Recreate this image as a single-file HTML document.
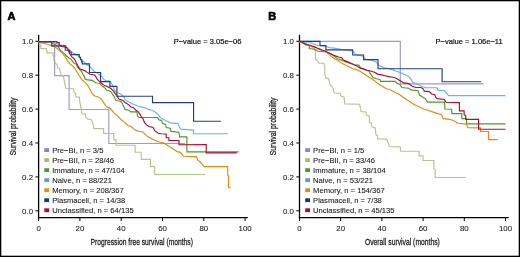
<!DOCTYPE html>
<html><head><meta charset="utf-8"><style>
html,body{margin:0;padding:0;background:#fff;}
svg{display:block;will-change:transform;}
.t{font-family:"Liberation Sans", sans-serif;font-size:7.5px;fill:#111;stroke:#111;stroke-width:0.22px;}
.lg{font-family:"Liberation Sans", sans-serif;font-size:7.9px;fill:#222;stroke:#222;stroke-width:0.1px;}
.pv{font-family:"Liberation Sans", sans-serif;font-size:7.9px;fill:#111;stroke:#111;stroke-width:0.2px;}
.tk{font-family:"Liberation Sans", sans-serif;font-size:7.85px;fill:#1a1a1a;stroke:#1a1a1a;stroke-width:0.08px;}
.c{font-family:"Liberation Sans", sans-serif;font-size:9.5px;fill:#151515;stroke:#151515;stroke-width:0.25px;}
.lab{font-family:"Liberation Sans", sans-serif;font-size:11px;font-weight:bold;fill:#000;stroke:#000;stroke-width:0.7px;stroke-linejoin:round;}
</style></head><body>
<svg width="520" height="257" viewBox="0 0 520 257">
<rect x="0.65" y="0.65" width="518.7" height="255.7" fill="none" stroke="#000" stroke-width="1.3"/>
<text x="7.4" y="20" class="lab">A</text>
<text x="268.3" y="20" class="lab">B</text>
<line x1="38.60" y1="34.8" x2="38.60" y2="218.3" stroke="#000" stroke-width="1.3"/>
<line x1="38.00" y1="217.7" x2="247.80" y2="217.7" stroke="#000" stroke-width="1.3"/>
<line x1="35.40" y1="210.80" x2="38.60" y2="210.80" stroke="#000" stroke-width="1"/>
<text x="33.00" y="213.50" text-anchor="end" class="tk">0.0</text>
<line x1="35.40" y1="176.90" x2="38.60" y2="176.90" stroke="#000" stroke-width="1"/>
<text x="33.00" y="179.60" text-anchor="end" class="tk">0.2</text>
<line x1="35.40" y1="143.00" x2="38.60" y2="143.00" stroke="#000" stroke-width="1"/>
<text x="33.00" y="145.70" text-anchor="end" class="tk">0.4</text>
<line x1="35.40" y1="109.10" x2="38.60" y2="109.10" stroke="#000" stroke-width="1"/>
<text x="33.00" y="111.80" text-anchor="end" class="tk">0.6</text>
<line x1="35.40" y1="75.20" x2="38.60" y2="75.20" stroke="#000" stroke-width="1"/>
<text x="33.00" y="77.90" text-anchor="end" class="tk">0.8</text>
<line x1="35.40" y1="41.30" x2="38.60" y2="41.30" stroke="#000" stroke-width="1"/>
<text x="33.00" y="44.00" text-anchor="end" class="tk">1.0</text>
<line x1="38.60" y1="217.7" x2="38.60" y2="221" stroke="#000" stroke-width="1"/>
<text x="38.60" y="231.4" text-anchor="middle" class="tk">0</text>
<line x1="79.90" y1="217.7" x2="79.90" y2="221" stroke="#000" stroke-width="1"/>
<text x="79.90" y="231.4" text-anchor="middle" class="tk">20</text>
<line x1="121.20" y1="217.7" x2="121.20" y2="221" stroke="#000" stroke-width="1"/>
<text x="121.20" y="231.4" text-anchor="middle" class="tk">40</text>
<line x1="162.50" y1="217.7" x2="162.50" y2="221" stroke="#000" stroke-width="1"/>
<text x="162.50" y="231.4" text-anchor="middle" class="tk">60</text>
<line x1="203.80" y1="217.7" x2="203.80" y2="221" stroke="#000" stroke-width="1"/>
<text x="203.80" y="231.4" text-anchor="middle" class="tk">80</text>
<line x1="245.10" y1="217.7" x2="245.10" y2="221" stroke="#000" stroke-width="1"/>
<text x="245.10" y="231.4" text-anchor="middle" class="tk">100</text>
<g transform="translate(0,0.3)">
<path d="M38.6,41.3 54.6,41.3 54.6,75.3 69.1,75.3 69.1,109.2 108.8,109.2 108.8,143.2 184.9,143.2" fill="none" stroke="#9d98d8" stroke-width="1.15" stroke-linejoin="miter"/>
<path d="M38.6,41.3 39.2,41.3 39.2,43.7 40.1,43.7 40.1,45.1 40.8,45.1 40.8,48.3 46.4,48.3 46.4,50.7 47.1,50.7 47.1,52.5 53.0,52.5 53.0,55.5 53.8,55.5 53.8,60.0 54.7,60.0 55.4,63.5 57.0,63.9 57.5,67.4 59.3,67.8 60.1,70.9 60.9,73.2 61.0,75.6 63.2,75.6 64.0,78.7 64.8,83.3 65.6,87.2 65.6,88.0 73.3,88.4 74.1,91.9 75.7,93.5 75.9,96.6 79.3,96.8 79.8,101.7 80.6,105.6 81.3,109.5 82.1,113.5 85.2,113.8 86.0,117.2 88.3,118.8 91.5,119.6 93.0,123.5 93.8,127.4 93.8,128.3 103.6,128.3 103.6,133.2 113.7,133.2 113.7,139.5 116.0,139.5 116.0,144.9 135.1,144.9 135.1,151.9 141.3,151.9 141.3,159.0 150.5,159.0 150.5,166.3 154.6,166.3 154.6,174.2 205.0,174.2" fill="none" stroke="#b4c690" stroke-width="1.15" stroke-linejoin="miter"/>
<path d="M38.6,41.3 50.0,41.3 52.0,42.7 56.2,45.1 59.0,47.6 60.3,49.9 63.8,52.8 66.2,55.2 68.5,57.5 70.8,58.7 72.6,61.0 74.3,63.3 76.0,63.7 77.4,66.5 79.7,69.3 81.6,71.2 83.0,74.0 84.4,76.4 85.3,79.2 88.1,79.6 91.9,80.1 93.8,81.0 95.6,82.4 97.0,82.7 99.7,83.0 101.6,85.3 103.5,86.7 105.3,88.1 106.7,90.0 109.1,90.5 111.0,91.4 112.4,93.8 113.9,95.8 114.8,98.0 115.7,99.9 117.6,100.4 120.4,100.8 121.8,102.2 122.7,104.1 123.7,106.0 124.6,108.0 125.1,109.1 129.0,109.9 130.6,111.5 136.8,111.5 137.6,115.4 138.3,116.9 142.2,117.2 157.8,117.2 158.6,119.5 161.7,120.2 162.5,123.3 165.6,124.1 166.3,127.2 170.2,128.0 171.0,131.1 178.8,131.9 179.6,135.8 179.6,136.6 186.9,136.6 186.9,151.6 238.8,151.6" fill="none" stroke="#4a9c28" stroke-width="1.15" stroke-linejoin="miter"/>
<path d="M38.6,41.3 44.0,41.3 44.0,42.1 51.3,42.1 57.6,43.7 60.4,44.8 65.0,45.3 67.3,47.6 69.7,49.9 73.2,52.8 76.7,54.6 79.5,57.0 82.5,60.4 84.8,62.2 88.0,65.1 89.7,65.8 92.0,68.9 94.3,71.2 97.5,72.8 101.1,76.0 102.5,77.0 103.5,78.8 105.3,80.2 109.9,80.8 111.5,83.0 114.0,88.5 114.8,90.5 117.6,92.4 119.5,93.3 121.3,94.3 123.7,96.1 125.1,99.0 127.0,100.8 129.8,102.2 132.6,103.6 136.0,105.0 138.3,106.0 142.2,106.8 145.4,107.6 148.5,109.1 151.6,109.9 153.9,110.9 156.2,112.5 158.6,114.8 160.1,117.1 162.5,118.7 165.6,120.2 171.0,122.6 178.0,123.3 179.6,127.2 181.1,128.8 193.6,129.8 193.6,133.4 227.9,133.4" fill="none" stroke="#72b2e6" stroke-width="1.15" stroke-linejoin="miter"/>
<path d="M38.6,41.3 41.5,42.7 46.4,43.7 50.6,45.1 54.1,46.5 56.9,47.9 59.0,49.7 60.3,51.1 62.7,53.4 65.0,56.3 67.3,59.8 69.7,63.3 72.6,65.7 74.9,68.0 77.5,72.7 82.2,79.7 85.0,82.1 87.3,84.5 89.7,88.4 92.0,93.0 94.3,95.4 97.5,96.5 100.3,97.9 102.1,99.7 103.8,102.6 106.2,106.1 107.9,107.3 109.7,107.8 112.0,110.2 114.3,113.1 117.3,115.4 119.6,117.8 121.3,119.5 124.3,121.8 126.6,123.9 128.5,125.4 131.2,126.2 133.6,128.6 135.9,130.1 139.0,130.9 142.9,131.7 145.2,134.0 147.6,136.3 150.7,137.9 153.8,139.5 156.9,141.0 160.0,142.0 163.1,142.3 165.4,143.6 167.8,145.1 170.1,146.7 172.5,148.2 174.8,149.8 177.1,151.3 179.5,151.8 181.8,153.7 183.3,156.0 195.0,156.3 196.6,156.5 197.3,158.6 198.1,160.1 200.4,161.7 202.0,164.0 203.6,165.6 204.3,166.3 227.7,166.3 227.7,174.9 228.5,175.7 228.5,187.4 230.8,187.4" fill="none" stroke="#e38a12" stroke-width="1.15" stroke-linejoin="miter"/>
<path d="M38.6,41.3 51.7,41.3 51.7,45.5 65.3,45.5 65.3,49.9 69.5,49.9 69.5,51.7 71.2,51.7 71.2,54.3 79.3,54.3 79.3,56.9 80.5,56.9 80.5,59.3 81.6,59.3 81.6,61.6 82.3,61.6 82.3,63.6 89.5,63.6 89.5,72.2 100.6,72.2 100.6,81.3 109.9,81.3 109.9,86.0 116.9,86.0 116.9,95.9 152.5,95.9 152.5,102.3 193.6,102.3 193.6,120.9 220.9,120.9" fill="none" stroke="#233f7e" stroke-width="1.15" stroke-linejoin="miter"/>
<path d="M38.6,41.3 56.8,41.3 56.8,42.3 59.2,42.3 59.2,45.5 62.0,46.2 65.7,46.8 67.1,47.7 68.5,50.5 69.5,53.3 70.9,55.2 72.3,57.1 73.7,58.0 75.1,59.9 76.0,61.9 77.9,65.6 79.7,68.4 81.6,69.3 83.5,69.8 85.3,70.7 87.2,72.1 90.0,74.0 93.8,74.5 95.2,75.4 96.6,77.8 97.9,79.7 99.3,81.1 101.6,83.0 104.4,85.3 106.3,85.8 108.1,86.7 111.0,88.1 112.8,90.0 114.2,91.9 115.6,93.8 117.0,95.6 118.4,98.0 119.0,99.0 121.3,99.4 123.2,100.4 125.1,102.2 127.4,103.6 129.3,105.0 130.7,106.4 133.5,107.4 136.0,109.9 138.3,111.5 139.9,113.8 141.5,116.9 143.0,118.5 144.6,122.4 146.9,125.0 149.1,126.2 153.1,127.2 154.7,130.4 157.8,132.7 160.9,133.5 166.2,133.7 166.2,137.4 168.9,137.4 168.9,140.2 179.0,140.2 179.0,144.4 206.2,144.3 206.2,152.6 236.8,152.6" fill="none" stroke="#b40a32" stroke-width="1.15" stroke-linejoin="miter"/>
</g>
<rect x="44.30" y="148.20" width="4.8" height="3.8" fill="#8a84cc"/>
<text transform="translate(52.20,152.80) scale(0.965,1)" class="lg">Pre−BI, n = 3/5</text>
<rect x="44.30" y="158.22" width="4.8" height="3.8" fill="#a4bb78"/>
<text transform="translate(52.20,162.80) scale(0.965,1)" class="lg">Pre−BII, n = 28/46</text>
<rect x="44.30" y="168.24" width="4.8" height="3.8" fill="#4a9c28"/>
<text transform="translate(52.20,172.80) scale(0.965,1)" class="lg">Immature, n = 47/104</text>
<rect x="44.30" y="178.26" width="4.8" height="3.8" fill="#539fe0"/>
<text transform="translate(52.20,182.80) scale(0.965,1)" class="lg">Naive, n = 88/221</text>
<rect x="44.30" y="188.28" width="4.8" height="3.8" fill="#e38a12"/>
<text transform="translate(52.20,192.80) scale(0.965,1)" class="lg">Memory, n = 208/367</text>
<rect x="44.30" y="198.30" width="4.8" height="3.8" fill="#1a3676"/>
<text transform="translate(52.20,202.80) scale(0.965,1)" class="lg">Plasmacell, n = 14/38</text>
<rect x="44.30" y="208.32" width="4.8" height="3.8" fill="#b40a32"/>
<text transform="translate(52.20,212.80) scale(0.965,1)" class="lg">Unclassified, n = 64/135</text>
<line x1="299.50" y1="34.8" x2="299.50" y2="218.3" stroke="#000" stroke-width="1.3"/>
<line x1="298.90" y1="217.7" x2="508.70" y2="217.7" stroke="#000" stroke-width="1.3"/>
<line x1="296.30" y1="210.80" x2="299.50" y2="210.80" stroke="#000" stroke-width="1"/>
<text x="293.90" y="213.50" text-anchor="end" class="tk">0.0</text>
<line x1="296.30" y1="176.90" x2="299.50" y2="176.90" stroke="#000" stroke-width="1"/>
<text x="293.90" y="179.60" text-anchor="end" class="tk">0.2</text>
<line x1="296.30" y1="143.00" x2="299.50" y2="143.00" stroke="#000" stroke-width="1"/>
<text x="293.90" y="145.70" text-anchor="end" class="tk">0.4</text>
<line x1="296.30" y1="109.10" x2="299.50" y2="109.10" stroke="#000" stroke-width="1"/>
<text x="293.90" y="111.80" text-anchor="end" class="tk">0.6</text>
<line x1="296.30" y1="75.20" x2="299.50" y2="75.20" stroke="#000" stroke-width="1"/>
<text x="293.90" y="77.90" text-anchor="end" class="tk">0.8</text>
<line x1="296.30" y1="41.30" x2="299.50" y2="41.30" stroke="#000" stroke-width="1"/>
<text x="293.90" y="44.00" text-anchor="end" class="tk">1.0</text>
<line x1="299.50" y1="217.7" x2="299.50" y2="221" stroke="#000" stroke-width="1"/>
<text x="299.50" y="231.4" text-anchor="middle" class="tk">0</text>
<line x1="340.70" y1="217.7" x2="340.70" y2="221" stroke="#000" stroke-width="1"/>
<text x="340.70" y="231.4" text-anchor="middle" class="tk">20</text>
<line x1="381.90" y1="217.7" x2="381.90" y2="221" stroke="#000" stroke-width="1"/>
<text x="381.90" y="231.4" text-anchor="middle" class="tk">40</text>
<line x1="423.10" y1="217.7" x2="423.10" y2="221" stroke="#000" stroke-width="1"/>
<text x="423.10" y="231.4" text-anchor="middle" class="tk">60</text>
<line x1="464.30" y1="217.7" x2="464.30" y2="221" stroke="#000" stroke-width="1"/>
<text x="464.30" y="231.4" text-anchor="middle" class="tk">80</text>
<line x1="505.50" y1="217.7" x2="505.50" y2="221" stroke="#000" stroke-width="1"/>
<text x="505.50" y="231.4" text-anchor="middle" class="tk">100</text>
<g transform="translate(0,0.3)">
<path d="M299.5,41.1 400.3,41.1 400.3,83.5 483.6,83.5" fill="none" stroke="#9d98d8" stroke-width="1.15" stroke-linejoin="miter"/>
<path d="M299.5,41.3 305.0,43.0 309.2,45.2 313.2,47.5 314.9,48.6 315.4,51.0 315.4,58.8 316.7,59.4 317.8,60.8 318.6,62.8 324.0,63.0 324.8,66.7 324.8,73.7 325.6,77.6 328.7,78.3 329.5,82.2 330.2,84.6 331.8,86.1 333.3,88.5 334.1,92.4 334.7,92.8 340.1,93.0 340.9,95.8 344.0,96.6 344.8,103.6 359.6,103.9 360.4,107.5 361.1,111.3 365.8,111.7 366.6,115.2 369.0,115.3 369.5,122.1 371.3,122.9 372.1,126.8 375.2,127.6 376.0,134.6 377.6,135.3 377.6,138.6 386.9,138.8 387.7,141.6 389.2,145.5 390.0,146.4 399.4,146.6 400.4,147.0 400.4,150.9 419.1,150.9 419.1,155.6 423.0,155.6 423.0,160.2 433.9,160.2 433.9,168.6 435.1,169.3 435.1,177.2 465.8,177.2" fill="none" stroke="#b4c690" stroke-width="1.15" stroke-linejoin="miter"/>
<path d="M299.5,41.3 301.5,41.8 303.6,42.5 305.0,44.5 308.3,45.0 309.2,45.4 309.2,48.2 313.0,48.7 314.4,49.1 316.7,50.1 318.1,51.0 322.0,51.2 324.7,51.4 330.9,53.6 337.1,58.2 341.8,59.8 344.9,61.3 349.6,62.9 354.2,64.5 358.9,64.8 360.4,67.6 364.3,69.1 369.0,70.7 370.6,73.8 372.9,76.9 376.0,78.5 379.9,79.2 380.7,81.0 395.4,81.0 397.0,83.3 400.1,84.1 401.7,87.2 408.7,88.0 411.0,89.6 418.0,90.4 419.6,95.0 422.7,96.6 423.5,97.6 425.0,98.0 426.2,99.9 427.8,101.8 444.5,101.8 444.9,108.7 451.5,109.0 451.9,113.3 461.8,113.3 461.8,118.3 466.5,118.3 466.5,123.6 505.5,123.6" fill="none" stroke="#4a9c28" stroke-width="1.15" stroke-linejoin="miter"/>
<path d="M299.5,41.3 303.6,41.3 303.8,41.8 309.7,41.8 310.1,42.1 312.0,43.1 314.4,44.0 318.1,45.4 322.0,45.9 326.2,46.2 329.3,47.3 335.6,48.1 341.8,49.2 349.6,50.1 353.5,51.2 355.0,53.6 357.4,54.8 360.0,55.1 362.8,55.9 365.9,59.0 370.6,59.8 373.7,60.6 376.8,62.1 378.3,64.5 380.7,66.0 384.6,67.6 389.2,68.3 393.1,69.6 396.2,70.9 400.1,72.1 404.0,74.0 407.9,75.6 410.2,77.9 412.6,81.8 415.7,83.3 419.6,84.9 422.7,86.5 425.8,87.3 437.1,87.5 437.9,89.8 444.9,90.6 445.7,92.1 448.0,94.5 448.8,95.3 505.5,95.3" fill="none" stroke="#72b2e6" stroke-width="1.15" stroke-linejoin="miter"/>
<path d="M299.5,41.3 302.1,42.4 304.5,43.5 307.3,44.5 311.1,45.9 313.9,46.8 316.7,47.7 319.5,49.1 322.5,50.0 326.0,51.5 329.3,54.3 334.0,58.2 338.7,60.6 343.3,63.7 348.0,66.0 352.7,68.4 355.0,68.8 359.7,70.7 364.3,73.8 369.0,76.9 372.9,79.2 376.0,81.6 379.1,83.9 380.7,85.0 383.0,86.5 386.2,88.5 390.0,89.2 394.7,91.9 399.3,94.2 404.0,97.4 407.1,99.7 410.0,101.5 414.2,104.2 420.0,106.9 423.1,108.5 427.8,110.0 432.5,111.6 437.1,113.1 441.6,114.5 443.1,118.3 449.3,119.1 452.5,119.9 455.6,121.5 457.9,123.0 466.5,123.8 467.2,126.1 468.0,127.4 480.5,127.6 480.5,131.2 488.5,131.2 488.5,139.3 497.6,139.3" fill="none" stroke="#e38a12" stroke-width="1.15" stroke-linejoin="miter"/>
<path d="M299.5,41.1 320.0,41.1 320.0,45.2 325.9,45.2 325.9,49.6 352.7,49.6 352.7,54.7 363.6,54.7 363.6,59.3 378.0,59.3 378.0,68.4 442.1,68.4 442.1,81.4 481.1,81.4" fill="none" stroke="#233f7e" stroke-width="1.15" stroke-linejoin="miter"/>
<path d="M299.5,41.1 301.3,41.2 302.2,42.1 303.6,43.1 305.5,43.7 307.3,44.3 310.1,44.9 313.0,45.9 315.3,46.8 317.6,48.0 320.4,49.1 322.5,49.9 324.7,50.5 329.3,52.8 334.0,55.1 338.7,56.7 341.8,57.5 343.3,59.8 347.2,61.3 351.1,62.9 354.2,64.5 357.4,66.0 359.7,67.6 362.8,68.3 366.7,69.9 370.6,70.7 375.2,72.2 377.6,73.8 381.5,74.6 385.4,75.4 387.7,76.1 392.3,77.0 396.2,77.9 398.6,79.5 400.9,81.0 404.0,82.6 408.7,83.3 411.8,85.7 415.7,87.2 421.1,87.2 423.5,88.8 424.2,90.8 429.3,91.3 431.7,93.7 434.8,94.5 435.6,96.8 437.1,98.3 444.5,99.2 445.8,102.0 459.4,102.3 459.4,110.6 464.1,110.6 464.1,114.5 465.7,115.2 465.7,119.0 478.6,119.0 478.6,128.9 505.5,128.9" fill="none" stroke="#b40a32" stroke-width="1.15" stroke-linejoin="miter"/>
</g>
<rect x="305.20" y="148.20" width="4.8" height="3.8" fill="#8a84cc"/>
<text transform="translate(313.10,152.80) scale(0.965,1)" class="lg">Pre−BI, n = 1/5</text>
<rect x="305.20" y="158.22" width="4.8" height="3.8" fill="#a4bb78"/>
<text transform="translate(313.10,162.80) scale(0.965,1)" class="lg">Pre−BII, n = 33/46</text>
<rect x="305.20" y="168.24" width="4.8" height="3.8" fill="#4a9c28"/>
<text transform="translate(313.10,172.80) scale(0.965,1)" class="lg">Immature, n = 38/104</text>
<rect x="305.20" y="178.26" width="4.8" height="3.8" fill="#539fe0"/>
<text transform="translate(313.10,182.80) scale(0.965,1)" class="lg">Naive, n = 53/221</text>
<rect x="305.20" y="188.28" width="4.8" height="3.8" fill="#e38a12"/>
<text transform="translate(313.10,192.80) scale(0.965,1)" class="lg">Memory, n = 154/367</text>
<rect x="305.20" y="198.30" width="4.8" height="3.8" fill="#1a3676"/>
<text transform="translate(313.10,202.80) scale(0.965,1)" class="lg">Plasmacell, n = 7/38</text>
<rect x="305.20" y="208.32" width="4.8" height="3.8" fill="#b40a32"/>
<text transform="translate(313.10,212.80) scale(0.965,1)" class="lg">Unclassified, n = 45/135</text>
<text transform="translate(241.4,43.7) scale(0.955,1)" text-anchor="end" class="pv">P−value = 3.05e−06</text>
<text transform="translate(502.7,43.7) scale(0.955,1)" text-anchor="end" class="pv">P−value = 1.06e−11</text>
<text x="0" y="0" class="c" transform="translate(90.5,244.6) scale(0.71,1)">Progression free survival (months)</text>
<text x="0" y="0" class="c" transform="translate(364.9,244.6) scale(0.714,1)">Overall survival (months)</text>
<text x="0" y="0" class="c" transform="translate(15.5,155.3) rotate(-90) scale(0.724,1)">Survival probability</text>
<text x="0" y="0" class="c" transform="translate(275.8,155.3) rotate(-90) scale(0.724,1)">Survival probability</text>
</svg>
</body></html>
